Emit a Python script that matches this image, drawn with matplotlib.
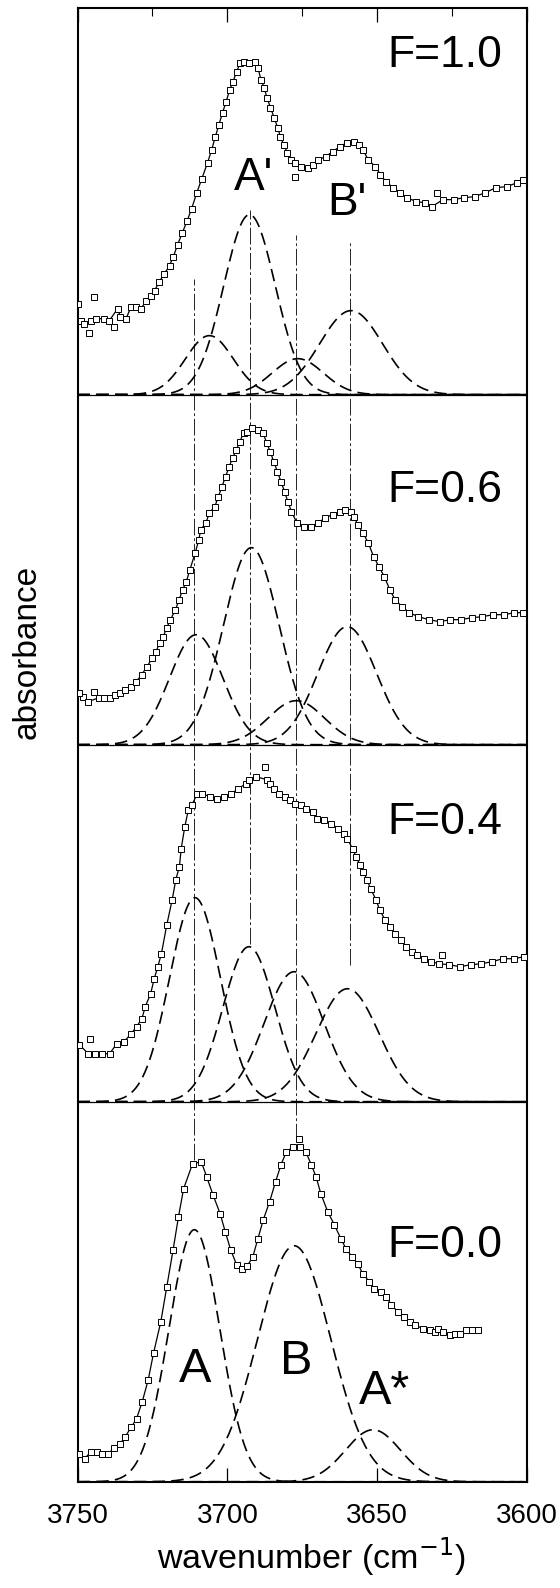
import numpy as np
import matplotlib.pyplot as plt

plt.rcParams['font.family'] = ['Liberation Sans', 'DejaVu Sans']
plt.rcParams['lines.scale_dashes'] = False

# ---- dados (numero de onda em cm-1, absorbancia em unidades arbitrarias) ----

# F = 1.0 (painel de cima)
f10_wn = [3748.8, 3747.7, 3745.5, 3743.8, 3741.0, 3739.4, 3736.6, 3735.7, 3733.8, 3732.1,
          3730.4, 3728.8, 3727.1, 3725.4, 3724.3, 3722.7, 3721.0, 3719.3, 3718.0, 3716.6,
          3715.0, 3713.4, 3711.9, 3710.2, 3708.5, 3706.6, 3705.2, 3704.0, 3702.8, 3701.6,
          3700.4, 3699.2, 3698.1, 3696.9, 3695.7, 3694.5, 3692.7, 3690.9, 3689.8, 3688.8,
          3687.7, 3686.8, 3685.6, 3684.4, 3683.2, 3682.3, 3681.2, 3680.0, 3678.9, 3677.3,
          3675.5, 3673.2, 3671.4, 3669.6, 3667.2, 3664.9, 3662.5, 3660.1, 3657.8, 3656.0,
          3654.8, 3653.0, 3650.6, 3648.9, 3647.1, 3644.7, 3642.3, 3640.0, 3637.0, 3634.0,
          3631.7, 3628.1, 3624.5, 3621.0, 3617.4, 3613.9, 3610.3, 3606.8, 3603.2, 3601.4]
f10_abs = [0.74, 0.71, 0.74, 0.76, 0.76, 0.74, 0.86, 0.78, 0.76, 0.88,
           0.88, 0.86, 0.94, 0.99, 1.04, 1.13, 1.21, 1.29, 1.38, 1.50,
           1.62, 1.74, 1.86, 2.02, 2.16, 2.32, 2.45, 2.58, 2.70, 2.82,
           2.93, 3.05, 3.13, 3.23, 3.32, 3.33, 3.32, 3.33, 3.27, 3.15,
           3.07, 2.97, 2.87, 2.77, 2.67, 2.58, 2.50, 2.42, 2.35, 2.32,
           2.28, 2.27, 2.30, 2.35, 2.38, 2.43, 2.48, 2.52, 2.53, 2.50,
           2.45, 2.35, 2.28, 2.20, 2.13, 2.07, 2.02, 1.97, 1.93, 1.92,
           1.88, 1.95, 1.95, 1.97, 1.98, 2.02, 2.07, 2.08, 2.12, 2.15]
f10_solto_wn = [3750.0, 3746.1, 3744.6, 3737.9, 3677.3, 3629.9]
f10_solto_abs = [0.91, 0.62, 0.98, 0.68, 2.18, 2.02]
f10_centros = [3706.0, 3692.6, 3676.5, 3658.7]
f10_alturas = [0.59, 1.80, 0.36, 0.84]
f10_larguras = [8.0, 8.6, 8.5, 10.5]

# F = 0.6
f06_wn = [3748.2, 3746.4, 3742.9, 3741.1, 3739.3, 3737.5, 3735.7, 3734.0, 3732.1, 3730.4,
          3728.6, 3726.8, 3725.0, 3723.8, 3722.6, 3721.4, 3720.2, 3719.0, 3717.3, 3716.1,
          3714.9, 3713.7, 3712.5, 3710.7, 3709.5, 3708.9, 3707.1, 3706.0, 3704.2, 3703.0,
          3701.8, 3700.6, 3699.4, 3698.2, 3697.0, 3695.8, 3694.6, 3693.5, 3691.7, 3689.9,
          3688.1, 3686.9, 3685.7, 3684.5, 3683.3, 3682.1, 3680.9, 3679.8, 3678.6, 3676.8,
          3674.4, 3672.0, 3669.6, 3667.3, 3664.9, 3662.5, 3660.7, 3658.9, 3657.7, 3656.5,
          3654.8, 3653.0, 3651.2, 3649.4, 3647.6, 3645.8, 3644.0, 3641.7, 3639.3, 3636.3,
          3632.7, 3629.2, 3625.6, 3622.0, 3618.5, 3614.9, 3611.3, 3607.7, 3604.2, 3601.2]
f06_abs = [0.48, 0.43, 0.47, 0.47, 0.47, 0.50, 0.52, 0.55, 0.58, 0.63,
           0.70, 0.78, 0.87, 0.93, 1.02, 1.08, 1.17, 1.25, 1.35, 1.45,
           1.55, 1.63, 1.75, 1.92, 2.05, 2.15, 2.22, 2.32, 2.38, 2.48,
           2.58, 2.68, 2.78, 2.87, 2.95, 3.03, 3.12, 3.13, 3.17, 3.15,
           3.12, 3.02, 2.93, 2.83, 2.73, 2.63, 2.53, 2.43, 2.33, 2.22,
           2.18, 2.18, 2.22, 2.27, 2.30, 2.33, 2.35, 2.33, 2.28, 2.20,
           2.12, 2.02, 1.88, 1.78, 1.68, 1.55, 1.45, 1.38, 1.32, 1.28,
           1.25, 1.23, 1.25, 1.25, 1.27, 1.28, 1.30, 1.30, 1.32, 1.32]
f06_solto_wn = [3749.4, 3744.4]
f06_solto_abs = [0.52, 0.53]
f06_centros = [3710.4, 3692.0, 3677.0, 3660.0]
f06_alturas = [1.10, 1.97, 0.44, 1.18]
f06_larguras = [8.9, 9.3, 9.4, 9.8]

# F = 0.4
f04_wn = [3749.4, 3746.4, 3744.0, 3741.7, 3739.3, 3736.9, 3734.5, 3732.1, 3730.3, 3728.5,
          3727.4, 3725.6, 3724.4, 3723.2, 3722.0, 3720.2, 3718.4, 3717.2, 3716.0, 3715.4,
          3714.2, 3713.0, 3711.8, 3710.0, 3708.3, 3705.9, 3703.5, 3701.1, 3698.7, 3696.3,
          3693.9, 3692.8, 3690.4, 3686.8, 3685.6, 3684.4, 3682.6, 3680.9, 3679.1, 3677.3,
          3675.5, 3673.7, 3671.3, 3670.1, 3667.7, 3665.3, 3663.0, 3661.2, 3660.0, 3658.2,
          3657.0, 3655.8, 3654.6, 3653.4, 3652.2, 3650.4, 3649.2, 3647.4, 3645.6, 3643.9,
          3642.1, 3640.3, 3638.5, 3636.7, 3634.3, 3631.9, 3629.5, 3626.0, 3622.4, 3618.8,
          3615.2, 3611.7, 3608.1, 3604.5, 3600.9]
f04_abs = [0.57, 0.48, 0.48, 0.48, 0.48, 0.58, 0.60, 0.68, 0.75, 0.83,
           0.95, 1.08, 1.23, 1.35, 1.48, 1.77, 2.02, 2.22, 2.35, 2.53,
           2.75, 2.92, 2.97, 3.08, 3.08, 3.05, 3.03, 3.05, 3.08, 3.13,
           3.18, 3.22, 3.25, 3.22, 3.18, 3.13, 3.08, 3.05, 3.02, 2.98,
           2.97, 2.93, 2.90, 2.83, 2.82, 2.78, 2.73, 2.68, 2.63, 2.53,
           2.45, 2.37, 2.30, 2.22, 2.13, 2.02, 1.92, 1.82, 1.75, 1.68,
           1.62, 1.55, 1.50, 1.47, 1.43, 1.40, 1.38, 1.37, 1.35, 1.37,
           1.38, 1.40, 1.43, 1.43, 1.45]
f04_solto_wn = [3745.8, 3687.4, 3628.4]
f04_solto_abs = [0.63, 3.35, 1.47]
f04_centros = [3710.8, 3692.8, 3677.7, 3659.9]
f04_alturas = [2.04, 1.55, 1.30, 1.13]
f04_larguras = [8.5, 8.7, 10.0, 10.5]

# F = 0.0 (painel de baixo)
f00_wn = [3749.6, 3747.6, 3745.6, 3743.5, 3741.7, 3739.7, 3737.8, 3735.8, 3734.1, 3732.0,
          3730.3, 3728.4, 3726.4, 3724.6, 3722.2, 3720.2, 3718.1, 3716.3, 3714.6, 3711.6,
          3708.7, 3706.9, 3704.8, 3702.4, 3700.7, 3698.9, 3696.9, 3695.1, 3693.3, 3691.5,
          3689.8, 3688.0, 3685.9, 3683.9, 3682.1, 3680.3, 3678.0, 3675.6, 3673.8, 3672.0,
          3670.4, 3668.8, 3666.5, 3664.3, 3662.1, 3660.4, 3658.4, 3656.5, 3654.8, 3652.6,
          3650.9, 3648.6, 3647.0, 3645.3, 3643.1, 3640.9, 3639.2, 3637.5, 3634.7, 3632.5,
          3630.8, 3629.7, 3628.0, 3625.8, 3624.1, 3622.4, 3620.2, 3618.5, 3616.3]
f00_abs = [0.28, 0.23, 0.30, 0.30, 0.28, 0.28, 0.34, 0.38, 0.45, 0.55,
           0.63, 0.80, 1.02, 1.29, 1.60, 1.95, 2.32, 2.65, 2.93, 3.18,
           3.20, 3.05, 2.87, 2.68, 2.50, 2.32, 2.17, 2.13, 2.16, 2.25,
           2.43, 2.62, 2.80, 3.00, 3.17, 3.30, 3.35, 3.35, 3.30, 3.17,
           3.05, 2.88, 2.70, 2.57, 2.43, 2.33, 2.25, 2.18, 2.08, 2.00,
           1.93, 1.90, 1.85, 1.77, 1.70, 1.65, 1.60, 1.57, 1.53, 1.52,
           1.50, 1.53, 1.50, 1.47, 1.48, 1.48, 1.52, 1.52, 1.52]
f00_solto_wn = [3676.2]
f00_solto_abs = [3.43]
f00_centros = [3711.0, 3677.7, 3651.4]
f00_alturas = [2.52, 2.36, 0.52]
f00_larguras = [8.5, 12.2, 9.2]

# linhas guia verticais (traco-ponto)
guia_wn = [3711.0, 3692.5, 3677.0, 3659.0]
guia_ini = [3.22, 5.38, 3.42, 5.17]
guia_fim = [12.03, 12.72, 12.47, 12.42]

rotulos_F = ['F=0.0', 'F=0.4', 'F=0.6', 'F=1.0']

# ---- layout ----
bases = [0.0, 3.80, 7.37, 10.87]
topo = 14.74
grade = np.linspace(3750, 3600, 601)


def desenharPainel(ax, base, wn, ab, swn, sab, centros, alturas, larguras):
    wn = np.array(wn)
    ab = np.array(ab)
    # curva ajustada passando pelos pontos
    ax.plot(wn, base + ab, '-', color='k', lw=0.9, zorder=3)
    # pontos experimentais
    todos_wn = np.concatenate([wn, swn])
    todos_ab = np.concatenate([ab, sab])
    ax.plot(todos_wn, base + todos_ab, 's', ms=4.6, mfc='white', mec='k', mew=0.7, zorder=4)
    # componentes gaussianas
    for c, a, s in zip(centros, alturas, larguras):
        y = a * np.exp(-(grade - c) ** 2 / (2 * s ** 2))
        ax.plot(grade, base + y, color='k', lw=1.2, ls=(0, (9, 4.5)), zorder=2)


fig = plt.figure(figsize=(5.6, 15.88), dpi=100)
ax = fig.add_axes([0.1384, 0.0669, 0.8027, 0.9283])

desenharPainel(ax, bases[0], f00_wn, f00_abs, f00_solto_wn, f00_solto_abs, f00_centros, f00_alturas, f00_larguras)
desenharPainel(ax, bases[1], f04_wn, f04_abs, f04_solto_wn, f04_solto_abs, f04_centros, f04_alturas, f04_larguras)
desenharPainel(ax, bases[2], f06_wn, f06_abs, f06_solto_wn, f06_solto_abs, f06_centros, f06_alturas, f06_larguras)
desenharPainel(ax, bases[3], f10_wn, f10_abs, f10_solto_wn, f10_solto_abs, f10_centros, f10_alturas, f10_larguras)

# divisoes entre paineis
for b in bases[1:]:
    ax.axhline(b, color='k', lw=0.9, zorder=1)

ax.vlines(guia_wn, guia_ini, guia_fim, colors='k', lw=0.6, linestyles=[(0, (12, 2, 2, 2))], zorder=1)

# rotulos
pos_F = [2.25, 6.48, 9.80, 14.15]
for texto, y in zip(rotulos_F, pos_F):
    ax.text(3608.3, y, texto, ha='right', va='baseline', fontsize=32)

ax.text(3710.6, 1.00, 'A', ha='center', va='baseline', fontsize=35)
ax.text(3677.0, 1.08, 'B', ha='center', va='baseline', fontsize=35)
ax.text(3647.5, 0.78, 'A*', ha='center', va='baseline', fontsize=35)
ax.text(3691.1, 12.92, "A'", ha='center', va='baseline', fontsize=33)
ax.text(3660.1, 12.67, "B'", ha='center', va='baseline', fontsize=33)

ax.set_xlim(3750, 3600)
ax.set_ylim(0, topo)
ax.set_yticks([])
ax.set_xticks([3750, 3700, 3650, 3600])
ax.set_xticks([3725, 3675, 3625], minor=True)
ax.tick_params(which='major', direction='in', top=True, bottom=True, length=10, width=0.9,
               labelsize=20, pad=15)
ax.tick_params(which='minor', direction='in', top=True, bottom=False, length=5.5, width=0.8)
for sp in ax.spines.values():
    sp.set_linewidth(1.5)

fig.text(0.555, 0.0125, 'wavenumber (cm$^{-1}$)', ha='center', va='baseline', fontsize=24.5)
fig.text(0.048, 0.5896, 'absorbance', ha='center', va='center', rotation=90, fontsize=24)

fig.savefig('out.png', dpi=100)
